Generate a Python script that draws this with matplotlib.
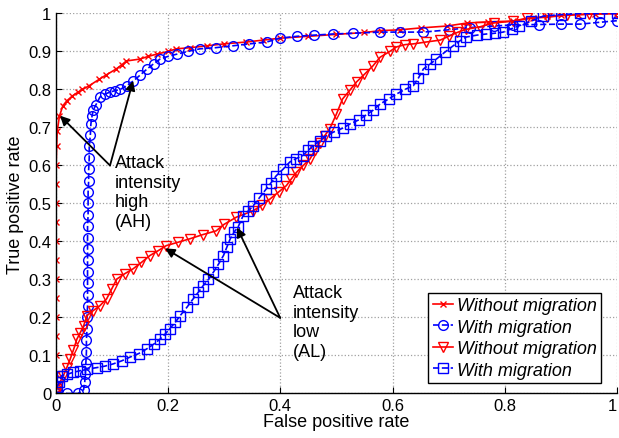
import matplotlib
matplotlib.use("Agg")
import matplotlib.pyplot as plt

plt.rcParams["font.family"] = ["Liberation Sans", "DejaVu Sans"]

# attack intensity high, without migration
ah_wo_x = [0.0, 0.0, 0.0, 0.0, 0.0, 0.0, 0.0, 0.0, 0.0, 0.0, 0.0, 0.001, 0.001, 0.002, 0.003,
           0.007, 0.013, 0.02, 0.03, 0.04, 0.048, 0.06, 0.078, 0.09, 0.108, 0.118, 0.126,
           0.15, 0.165, 0.18, 0.2, 0.215, 0.24, 0.27, 0.3, 0.34, 0.37, 0.40, 0.45, 0.5,
           0.55, 0.58, 0.613, 0.65, 0.697, 0.733, 0.77, 0.815, 0.85, 0.875, 0.9, 0.93,
           0.96, 1.0]
ah_wo_y = [0.0, 0.05, 0.1, 0.15, 0.2, 0.25, 0.3, 0.35, 0.4, 0.45, 0.5, 0.55, 0.6, 0.65, 0.69,
           0.73, 0.757, 0.77, 0.783, 0.793, 0.80, 0.81, 0.827, 0.838, 0.854, 0.865, 0.875,
           0.88, 0.887, 0.893, 0.90, 0.907, 0.91, 0.915, 0.92, 0.925, 0.93, 0.935, 0.94,
           0.945, 0.95, 0.955, 0.957, 0.962, 0.967, 0.975, 0.978, 0.98, 0.988, 0.993,
           0.995, 0.997, 0.999, 1.0]

# attack intensity high, with migration
ah_w_x = [0.0, 0.002, 0.02, 0.04, 0.05, 0.052, 0.053, 0.054, 0.055, 0.055, 0.056, 0.056,
          0.057, 0.057, 0.057, 0.057, 0.057, 0.057, 0.057, 0.057, 0.058, 0.058, 0.058,
          0.059, 0.059, 0.06, 0.06, 0.062, 0.063, 0.065, 0.067, 0.072, 0.079, 0.088,
          0.097, 0.106, 0.115, 0.127, 0.138, 0.15, 0.163, 0.175, 0.186, 0.2, 0.216,
          0.235, 0.257, 0.285, 0.316, 0.345, 0.376, 0.40, 0.43, 0.46, 0.494, 0.53,
          0.578, 0.613, 0.655, 0.70, 0.738, 0.78, 0.815, 0.86, 0.9, 0.934, 0.97, 1.0]
ah_w_y = [0.0, 0.017, 0.0, 0.0, 0.01, 0.03, 0.05, 0.08, 0.11, 0.14, 0.17, 0.2, 0.23, 0.26,
          0.29, 0.32, 0.35, 0.38, 0.41, 0.44, 0.47, 0.5, 0.53, 0.56, 0.59, 0.62, 0.65,
          0.68, 0.71, 0.73, 0.745, 0.76, 0.78, 0.788, 0.793, 0.797, 0.80, 0.81, 0.822,
          0.837, 0.854, 0.868, 0.88, 0.887, 0.893, 0.9, 0.907, 0.91, 0.915, 0.92, 0.925,
          0.935, 0.94, 0.943, 0.946, 0.948, 0.951, 0.951, 0.951, 0.957, 0.963, 0.967,
          0.97, 0.971, 0.972, 0.972, 0.977, 0.981]

# attack intensity low, without migration
al_wo_x = [0.0, 0.002, 0.008, 0.014, 0.02, 0.026, 0.032, 0.038, 0.044, 0.05, 0.056, 0.067,
           0.079, 0.091, 0.1, 0.109, 0.123, 0.138, 0.153, 0.168, 0.183, 0.197, 0.218,
           0.239, 0.262, 0.286, 0.3, 0.322, 0.352, 0.367, 0.382, 0.397, 0.411, 0.42,
           0.429, 0.441, 0.453, 0.462, 0.47, 0.479, 0.488, 0.50, 0.511, 0.524, 0.536,
           0.55, 0.565, 0.578, 0.595, 0.607, 0.622, 0.637, 0.66, 0.685, 0.70, 0.715,
           0.73, 0.756, 0.78, 0.815, 0.84, 0.875, 0.91, 0.95, 1.0]
al_wo_y = [0.0, 0.012, 0.03, 0.047, 0.068, 0.09, 0.115, 0.143, 0.16, 0.178, 0.205, 0.218,
           0.231, 0.249, 0.275, 0.301, 0.315, 0.328, 0.345, 0.363, 0.376, 0.389, 0.398,
           0.407, 0.418, 0.428, 0.445, 0.464, 0.481, 0.495, 0.512, 0.53, 0.547, 0.565,
           0.582, 0.6, 0.617, 0.64, 0.66, 0.678, 0.696, 0.735, 0.775, 0.798, 0.82, 0.84,
           0.862, 0.885, 0.9, 0.912, 0.918, 0.92, 0.925, 0.93, 0.94, 0.95, 0.958, 0.965,
           0.975, 0.98, 0.988, 0.99, 0.996, 0.998, 1.0]

# attack intensity low, with migration
al_w_x = [0.002, 0.007, 0.011, 0.02, 0.032, 0.044, 0.056, 0.073, 0.088, 0.103, 0.118,
          0.133, 0.148, 0.162, 0.175, 0.186, 0.195, 0.203, 0.213, 0.222, 0.234, 0.245,
          0.254, 0.263, 0.272, 0.281, 0.29, 0.299, 0.305, 0.311, 0.318, 0.325, 0.334,
          0.343, 0.352, 0.363, 0.375, 0.384, 0.393, 0.405, 0.417, 0.428, 0.44, 0.45,
          0.459, 0.47, 0.482, 0.495, 0.511, 0.525, 0.54, 0.553, 0.565, 0.578, 0.593,
          0.607, 0.622, 0.637, 0.646, 0.655, 0.667, 0.678, 0.693, 0.708, 0.72, 0.731,
          0.75, 0.767, 0.782, 0.797, 0.812, 0.826, 0.847, 0.868, 0.9, 0.934, 0.967, 1.0]
al_w_y = [0.017, 0.03, 0.047, 0.05, 0.056, 0.06, 0.064, 0.068, 0.072, 0.078, 0.086, 0.096,
          0.105, 0.117, 0.13, 0.143, 0.156, 0.17, 0.187, 0.205, 0.227, 0.249, 0.266,
          0.284, 0.3, 0.319, 0.34, 0.363, 0.385, 0.407, 0.425, 0.438, 0.468, 0.48, 0.494,
          0.515, 0.538, 0.555, 0.573, 0.59, 0.609, 0.618, 0.626, 0.64, 0.652, 0.665,
          0.678, 0.688, 0.698, 0.71, 0.72, 0.733, 0.745, 0.762, 0.775, 0.788, 0.8, 0.81,
          0.83, 0.854, 0.867, 0.88, 0.898, 0.915, 0.928, 0.938, 0.943, 0.946, 0.948,
          0.951, 0.96, 0.968, 0.98, 0.993, 0.997, 1.0, 1.0, 1.0]

labels = ["Without migration", "With migration", "Without migration", "With migration"]
x_ticks = [0, 0.2, 0.4, 0.6, 0.8, 1]
y_ticks = [0, 0.1, 0.2, 0.3, 0.4, 0.5, 0.6, 0.7, 0.8, 0.9, 1]
x_tick_labels = ["0", "0.2", "0.4", "0.6", "0.8", "1"]
y_tick_labels = ["0", "0.1", "0.2", "0.3", "0.4", "0.5", "0.6", "0.7", "0.8", "0.9", "1"]

fig = plt.figure(figsize=(6.19, 4.39), dpi=100)
ax = fig.add_axes([0.0897, 0.1014, 0.9074, 0.8656])

red = "#ff0000"
blue = "#0000ff"
ax.plot(ah_wo_x, ah_wo_y, "-", color=red, lw=1.2, marker="x", ms=5, mew=1.0,
        label=labels[0])
ax.plot(ah_w_x, ah_w_y, "--", color=blue, lw=1.2, marker="o", ms=7, mew=1.0,
        mfc="none", label=labels[1])
ax.plot(al_wo_x, al_wo_y, "-", color=red, lw=1.2, marker="v", ms=7, mew=1.0,
        mfc="none", label=labels[2])
ax.plot(al_w_x, al_w_y, "--", color=blue, lw=1.2, marker="s", ms=6.5, mew=1.0,
        mfc="none", label=labels[3])

ax.set_xlim(0, 1)
ax.set_ylim(0, 1)
ax.set_xticks(x_ticks)
ax.set_xticklabels(x_tick_labels)
ax.set_yticks(y_ticks)
ax.set_yticklabels(y_tick_labels)
ax.tick_params(direction="in", length=4, labelsize=12, pad=3)
ax.get_xticklabels()[-1].set_horizontalalignment("right")
ax.grid(True, linestyle=":", color="#a0a0a0", lw=0.9)
ax.set_axisbelow(True)
for side in ("top", "right"):
    ax.spines[side].set_visible(False)
for side in ("left", "bottom"):
    ax.spines[side].set_linewidth(1.0)

ax.set_xlabel("False positive rate", fontsize=13, labelpad=0)
ax.set_ylabel("True positive rate", fontsize=13, labelpad=3)

arrow = dict(arrowstyle="-|>", color="black", lw=1.3, mutation_scale=14,
             shrinkA=0, shrinkB=0)
# AH annotation
ax.text(0.106, 0.63, "Attack\nintensity\nhigh\n(AH)", fontsize=13, va="top",
        ha="left", linespacing=1.2)
ax.annotate("", xy=(0.008, 0.731), xytext=(0.097, 0.6), arrowprops=arrow)
ax.annotate("", xy=(0.138, 0.823), xytext=(0.097, 0.6), arrowprops=arrow)
# AL annotation
ax.text(0.423, 0.288, "Attack\nintensity\nlow\n(AL)", fontsize=13, va="top",
        ha="left", linespacing=1.2)
ax.annotate("", xy=(0.195, 0.382), xytext=(0.4, 0.199), arrowprops=arrow)
ax.annotate("", xy=(0.323, 0.437), xytext=(0.4, 0.199), arrowprops=arrow)

leg = ax.legend(loc="lower right", bbox_to_anchor=(0.972, 0.027), fancybox=False,
                framealpha=1, edgecolor="black", prop={"size": 13, "style": "italic"},
                handlelength=1.1, handletextpad=0.25, labelspacing=0.25,
                borderpad=0.25, borderaxespad=0)
leg.get_frame().set_linewidth(1.0)

fig.savefig("out.png", dpi=100)
